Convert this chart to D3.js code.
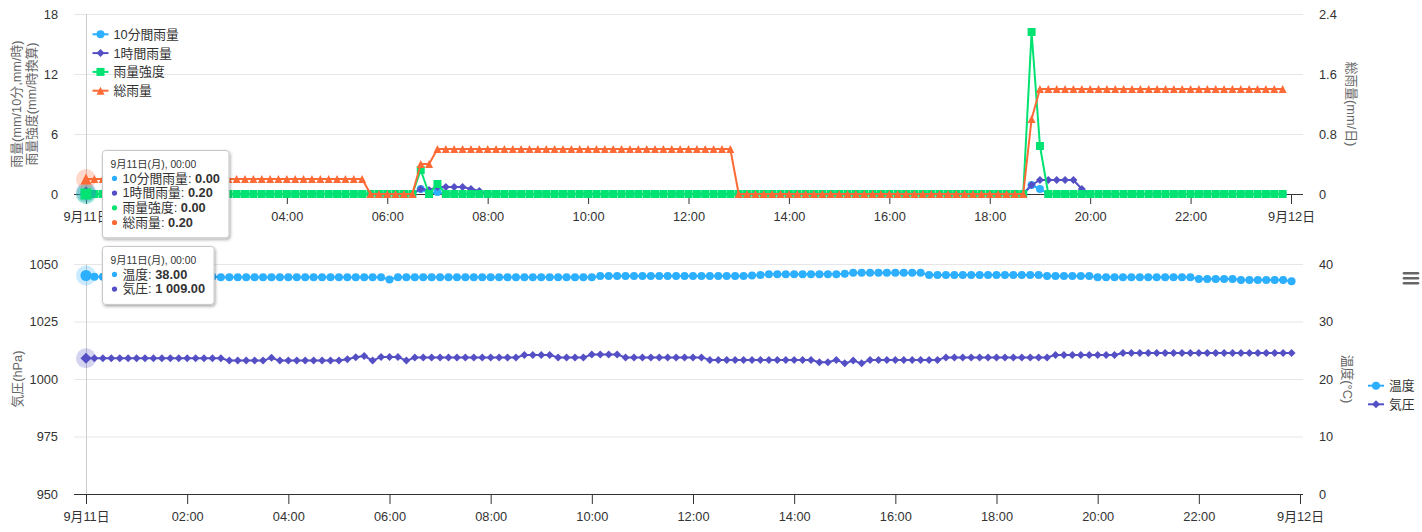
<!DOCTYPE html>
<html><head><meta charset="utf-8">
<script src="https://cdn.jsdelivr.net/npm/d3@7/dist/d3.min.js"></script>
<style>
html,body{margin:0;padding:0;background:#fff;}
svg{display:block;}
text{font-family:"Liberation Sans",Arial,Helvetica,"Noto Sans CJK JP",sans-serif;}
</style></head><body>
<svg id="chart" width="1422" height="532"></svg>
<script>
// ---------------- DATA ----------------
const startTime = new Date(2023, 8, 11, 0, 0);
const stepMinutes = 10;
const xTickHours = [0,2,4,6,8,10,12,14,16,18,20,22,24];
const weekdays = ['日','月','火','水','木','金','土'];

const topSeriesNames = ['10分間雨量','1時間雨量','雨量強度','総雨量'];
const topLeftTitles = ['雨量(mm/10分,mm/時)','雨量強度(mm/時換算)'];
const topRightTitle = '総雨量(mm/日)';
const topLeftTicks = [0,6,12,18];
const topRightTicks = [0,0.8,1.6,2.4];

const bottomSeriesNames = ['温度','気圧'];
const bottomLeftTitle = '気圧(hPa)';
const bottomRightTitle = '温度(°C)';
const bottomLeftTicks = [950,975,1000,1025,1050];
const bottomRightTicks = [0,10,20,30,40];

// 10-minute rainfall (mm)
const rain10 = [
0,0,0,0,0,0,0,0,0,0,0,0,
0,0,0,0,0,0,0,0,0,0,0,0,
0,0,0,0,0,0,0,0,0,0,0,0,
0,0,0,0,0.5,0,0.2,0,0,0,0,0,
0,0,0,0,0,0,0,0,0,0,0,0,
0,0,0,0,0,0,0,0,0,0,0,0,
0,0,0,0,0,0,0,0,0,0,0,0,
0,0,0,0,0,0,0,0,0,0,0,0,
0,0,0,0,0,0,0,0,0,0,0,0,
0,0,0,0,0,0.9,0.5,0,0,0,0,0,
0,0,0,0,0,0,0,0,0,0,0,0,
0,0,0,0,0,0,0,0,0,0,0,0];
// 1-hour rainfall (mm)
const rain1h = [
0.2,0,0,0,0,0,0,0,0,0,0,0,
0,0,0,0,0,0,0,0,0,0,0,0,
0,0,0,0,0,0,0,0,0,0,0,0,
0,0,0,0,0.5,0.4,0.7,0.7,0.7,0.7,0.5,0.3,
0,0,0,0,0,0,0,0,0,0,0,0,
0,0,0,0,0,0,0,0,0,0,0,0,
0,0,0,0,0,0,0,0,0,0,0,0,
0,0,0,0,0,0,0,0,0,0,0,0,
0,0,0,0,0,0,0,0,0,0,0,0,
0,0,0,0,0,0.9,1.4,1.4,1.4,1.4,1.4,0.5,
0,0,0,0,0,0,0,0,0,0,0,0,
0,0,0,0,0,0,0,0,0,0,0,0];
// rainfall intensity (mm/h)
const rainIntensity = [
0,0,0,0,0,0,0,0,0,0,0,0,
0,0,0,0,0,0,0,0,0,0,0,0,
0,0,0,0,0,0,0,0,0,0,0,0,
0,0,0,0,2.4,0,1.0,0,0,0,0,0,
0,0,0,0,0,0,0,0,0,0,0,0,
0,0,0,0,0,0,0,0,0,0,0,0,
0,0,0,0,0,0,0,0,0,0,0,0,
0,0,0,0,0,0,0,0,0,0,0,0,
0,0,0,0,0,0,0,0,0,0,0,0,
0,0,0,0,0,16.2,4.8,0,0,0,0,0,
0,0,0,0,0,0,0,0,0,0,0,0,
0,0,0,0,0,0,0,0,0,0,0,0];
// total rainfall (mm/day)
const rainTotal = [
0.2,0.2,0.2,0.2,0.2,0.2,0.2,0.2,0.2,0.2,0.2,0.2,
0.2,0.2,0.2,0.2,0.2,0.2,0.2,0.2,0.2,0.2,0.2,0.2,
0.2,0.2,0.2,0.2,0.2,0.2,0.2,0.2,0.2,0.2,0,0,
0,0,0,0,0.4,0.4,0.6,0.6,0.6,0.6,0.6,0.6,
0.6,0.6,0.6,0.6,0.6,0.6,0.6,0.6,0.6,0.6,0.6,0.6,
0.6,0.6,0.6,0.6,0.6,0.6,0.6,0.6,0.6,0.6,0.6,0.6,
0.6,0.6,0.6,0.6,0.6,0.6,0,0,0,0,0,0,
0,0,0,0,0,0,0,0,0,0,0,0,
0,0,0,0,0,0,0,0,0,0,0,0,
0,0,0,0,0,1.0,1.4,1.4,1.4,1.4,1.4,1.4,
1.4,1.4,1.4,1.4,1.4,1.4,1.4,1.4,1.4,1.4,1.4,1.4,
1.4,1.4,1.4,1.4,1.4,1.4,1.4,1.4,1.4,1.4,1.4,1.4];
// temperature (°C)
const temperature = [
38.0,37.8,37.8,37.8,37.8,37.8,37.8,37.8,37.8,37.8,37.8,37.8,
37.8,37.8,37.8,37.8,37.7,37.7,37.7,37.7,37.7,37.7,37.7,37.7,
37.7,37.7,37.7,37.7,37.7,37.7,37.7,37.7,37.7,37.7,37.7,37.7,
37.3,37.7,37.7,37.7,37.7,37.7,37.7,37.7,37.7,37.7,37.7,37.7,
37.7,37.7,37.7,37.7,37.7,37.7,37.7,37.7,37.7,37.7,37.7,37.7,
37.7,37.9,37.9,37.9,37.9,37.9,37.9,37.9,37.9,37.9,37.9,37.9,
37.9,37.9,37.9,37.9,37.9,37.9,37.9,38.0,38.1,38.2,38.2,38.2,
38.2,38.2,38.2,38.2,38.2,38.2,38.3,38.5,38.5,38.5,38.5,38.5,
38.5,38.5,38.5,38.5,38.1,38.1,38.1,38.1,38.1,38.1,38.1,38.1,
38.1,38.1,38.1,38.1,38.1,38.1,37.9,37.9,37.9,37.9,37.9,37.9,
37.7,37.7,37.7,37.7,37.7,37.7,37.7,37.7,37.7,37.7,37.7,37.7,
37.4,37.4,37.4,37.4,37.4,37.2,37.2,37.2,37.2,37.2,37.2,37.0];
// pressure (hPa)
const pressure = [
1009,1009,1009,1009,1009,1009,1009,1009,1009,1009,1009,1009,
1009,1009,1009,1009,1009,1008,1008,1008,1008,1008,1009.2,1008,
1008,1008,1008,1008,1008,1008,1008,1008.6,1009.5,1010,1008,1009.6,
1009.6,1009.6,1008,1009.3,1009.3,1009.3,1009.3,1009.3,1009.3,1009.3,1009.3,1009.3,
1009.3,1009.3,1009.3,1009.3,1010.4,1010.4,1010.4,1010.4,1009.4,1009.4,1009.4,1009.4,
1010.6,1010.6,1010.6,1010.6,1009.4,1009.4,1009.4,1009.4,1009.4,1009.4,1009.4,1009.4,
1009.4,1009.4,1008.3,1008.3,1008.3,1008.3,1008.3,1008.3,1008.3,1008.3,1008.3,1008.3,
1008.3,1008.3,1008.3,1007.3,1007.3,1008.3,1006.8,1008.0,1006.8,1008.3,1008.3,1008.3,
1008.3,1008.3,1008.3,1008.3,1008.3,1008.3,1009.4,1009.4,1009.4,1009.4,1009.4,1009.4,
1009.4,1009.4,1009.4,1009.4,1009.4,1009.4,1009.4,1010.4,1010.4,1010.4,1010.4,1010.4,
1010.4,1010.4,1010.4,1011.3,1011.3,1011.3,1011.3,1011.3,1011.3,1011.3,1011.3,1011.3,
1011.3,1011.3,1011.3,1011.3,1011.3,1011.3,1011.3,1011.3,1011.3,1011.3,1011.3,1011.3];

const colors = {blue:'#2caffe', purple:'#544fc5', green:'#00e272', orange:'#fe6a35'};

// ---------------- SETUP ----------------
const svg = d3.select('#chart');
const times = rain10.map((_, i) => new Date(startTime.getTime() + i * stepMinutes * 60000));
const tickDates = xTickHours.map(h => new Date(startTime.getTime() + h * 3600000));
const dayEnd = tickDates[tickDates.length - 1];
const xFmt = d => d.getHours() === 0 ? `${d.getMonth()+1}月${d.getDate()}日` : d3.timeFormat('%H:%M')(d);
const numFmt = d3.formatLocale({decimal:'.', thousands:' ', grouping:[3], currency:['','']}).format(',.2f');

const plotL = 74, plotR = 1303;
const FONT = '12.8px';

const defs = svg.append('defs');
const f = defs.append('filter').attr('id','shadow').attr('x','-20%').attr('y','-20%').attr('width','150%').attr('height','150%');
f.append('feDropShadow').attr('dx',1).attr('dy',1.5).attr('stdDeviation',1.6).attr('flood-color','#000').attr('flood-opacity',0.35);

function symbolPath(type, cx, cy, r) {
  switch (type) {
    case 'circle': return `M${cx-r},${cy}a${r},${r} 0 1,0 ${2*r},0a${r},${r} 0 1,0 ${-2*r},0Z`;
    case 'diamond': return `M${cx},${cy-r}L${cx+r},${cy}L${cx},${cy+r}L${cx-r},${cy}Z`;
    case 'square': return `M${cx-r},${cy-r}h${2*r}v${2*r}h${-2*r}Z`;
    case 'triangle': return `M${cx},${cy-r}L${cx+r},${cy+r}L${cx-r},${cy+r}Z`;
  }
}

function styleAxisText(g) {
  g.attr('font-family', null).attr('font-size', null);
  g.selectAll('text').attr('fill', '#333333').style('font-size', FONT);
  g.select('.domain').remove();
}

function drawPanel(cfg) {
  const root = svg.append('g');
  // grid
  const grid = root.append('g').attr('transform', `translate(${plotL},0)`)
    .call(d3.axisLeft(cfg.yL).tickValues(cfg.leftTicks).tickSize(-(plotR - plotL)).tickFormat(''));
  grid.select('.domain').remove();
  grid.selectAll('line').attr('stroke', '#e6e6e6');

  // y axes
  const yl = root.append('g').attr('transform', `translate(${plotL},0)`)
    .call(d3.axisLeft(cfg.yL).tickValues(cfg.leftTicks).tickSize(0).tickPadding(16).tickFormat(d => String(d)));
  styleAxisText(yl);
  const yr = root.append('g').attr('transform', `translate(${plotR},0)`)
    .call(d3.axisRight(cfg.yR).tickValues(cfg.rightTicks).tickSize(0).tickPadding(16).tickFormat(d => String(d)));
  styleAxisText(yr);

  // x axis
  const y0 = cfg.yL.range()[0];
  root.append('line').attr('x1', plotL).attr('x2', plotR).attr('y1', y0 + 0.5).attr('y2', y0 + 0.5)
    .attr('stroke', '#333333').attr('stroke-width', 1);
  const xa = root.append('g').attr('transform', `translate(0,${y0})`)
    .call(d3.axisBottom(cfg.x).tickValues(tickDates).tickSize(10).tickPadding(8).tickFormat(xFmt));
  styleAxisText(xa);
  xa.selectAll('line').attr('stroke', '#333333');
  // labels entirely hidden behind the tooltip are not rendered
  if (cfg.hideTickIdx) xa.selectAll('.tick').filter((d, i) => cfg.hideTickIdx.includes(i)).select('text').remove();

  // titles
  cfg.leftTitles.forEach(t => {
    root.append('text').attr('transform', `translate(${t.x},${t.y}) rotate(-90)`)
      .attr('text-anchor', 'middle').attr('dy', '0.35em').attr('fill', '#666666')
      .style('font-size', FONT).text(t.text);
  });
  root.append('text').attr('transform', `translate(${cfg.rightTitle.x},${cfg.rightTitle.y}) rotate(90)`)
    .attr('text-anchor', 'middle').attr('dy', '0.35em').attr('fill', '#666666')
    .style('font-size', FONT).text(cfg.rightTitle.text);

  // crosshair at first point
  const yTop = cfg.yL.range()[1];
  root.append('line').attr('x1', cfg.x(times[0]) + 0.5).attr('x2', cfg.x(times[0]) + 0.5)
    .attr('y1', yTop).attr('y2', y0).attr('stroke', '#cccccc').attr('stroke-width', 1);

  // series
  cfg.series.forEach(s => {
    const g = root.append('g');
    const line = d3.line().x((d, i) => cfg.x(times[i])).y(d => s.y(d));
    g.append('path').attr('d', line(s.values)).attr('fill', 'none').attr('stroke', s.color)
      .attr('stroke-width', 2).attr('stroke-linejoin', 'round').attr('stroke-linecap', 'round');
    g.selectAll('path.m').data(s.values).enter().append('path').attr('class', 'm')
      .attr('d', (d, i) => symbolPath(s.symbol, cfg.x(times[i]), s.y(d), 4))
      .attr('fill', s.color);
  });
  // hover halos + enlarged markers at index 0
  cfg.series.forEach(s => {
    const cx = cfg.x(times[0]), cy = s.y(s.values[0]);
    root.append('circle').attr('cx', cx).attr('cy', cy).attr('r', 10).attr('fill', s.color).attr('opacity', 0.25);
  });
  cfg.series.forEach(s => {
    const cx = cfg.x(times[0]), cy = s.y(s.values[0]);
    root.append('path').attr('d', symbolPath(s.symbol, cx, cy, 5.5)).attr('fill', s.color);
  });

  // legend
  cfg.series.forEach((s, k) => {
    const ly = cfg.legend.y + k * cfg.legend.step;
    const lx = cfg.legend.x;
    root.append('line').attr('x1', lx).attr('x2', lx + 16).attr('y1', ly).attr('y2', ly)
      .attr('stroke', s.color).attr('stroke-width', 2);
    root.append('path').attr('d', symbolPath(s.symbol, lx + 8, ly, 4)).attr('fill', s.color);
    root.append('text').attr('x', lx + 21).attr('y', ly).attr('dy', '0.35em')
      .attr('fill', '#333333').style('font-size', FONT).text(s.name);
  });

  // tooltip
  const tt = root.append('g');
  const box = tt.append('rect').attr('x', cfg.tip.x).attr('y', cfg.tip.y).attr('rx', 3).attr('ry', 3)
    .attr('fill', '#ffffff').attr('stroke', '#c8c8c8').attr('stroke-width', 1).attr('filter', 'url(#shadow)');
  const d0 = times[0];
  const header = `${d0.getMonth()+1}月${d0.getDate()}日(${weekdays[d0.getDay()]}), ${d3.timeFormat('%H:%M')(d0)}`;
  const texts = [];
  texts.push(tt.append('text').attr('x', cfg.tip.x + 8).attr('y', cfg.tip.y + 17.5)
    .attr('fill', '#333333').style('font-size', '10.3px').text(header));
  cfg.series.forEach((s, k) => {
    const by = cfg.tip.y + 17.5 + (k + 1) * 14.7;
    tt.append('circle').attr('cx', cfg.tip.x + 12).attr('cy', by - 4.3).attr('r', 2.6).attr('fill', s.color);
    const t = tt.append('text').attr('x', cfg.tip.x + 20).attr('y', by).attr('fill', '#333333').style('font-size', FONT);
    t.append('tspan').text(s.name + ': ');
    t.append('tspan').attr('font-weight', 'bold').text(numFmt(s.values[0]));
    texts.push(t);
  });
  let maxR = 0;
  texts.forEach(t => { const b = t.node().getBBox(); maxR = Math.max(maxR, b.x + b.width); });
  box.attr('width', maxR + 9 - cfg.tip.x).attr('height', 17.5 + cfg.series.length * 14.7 + 11);
}

// ---------------- TOP PANEL ----------------
const xTop = d3.scaleTime().domain([startTime, dayEnd]).range([86, 1291]);
const yL1 = d3.scaleLinear().domain([0, 18]).range([194, 14]);
const yR1 = d3.scaleLinear().domain([0, 2.4]).range([194, 14]);
drawPanel({
  x: xTop, yL: yL1, yR: yR1, leftTicks: topLeftTicks, rightTicks: topRightTicks,
  leftTitles: [{text: topLeftTitles[0], x: 16.7, y: 104}, {text: topLeftTitles[1], x: 31.7, y: 104}],
  rightTitle: {text: topRightTitle, x: 1351.5, y: 104},
  series: [
    {name: topSeriesNames[0], values: rain10, color: colors.blue, symbol: 'circle', y: yL1},
    {name: topSeriesNames[1], values: rain1h, color: colors.purple, symbol: 'diamond', y: yL1},
    {name: topSeriesNames[2], values: rainIntensity, color: colors.green, symbol: 'square', y: yL1},
    {name: topSeriesNames[3], values: rainTotal, color: colors.orange, symbol: 'triangle', y: yR1}
  ],
  legend: {x: 92.5, y: 34.3, step: 18.8},
  tip: {x: 102.5, y: 150.5},
  hideTickIdx: [1]
});

// ---------------- BOTTOM PANEL ----------------
const xBot = d3.scaleTime().domain([startTime, dayEnd]).range([86, 1300]);
const yL2 = d3.scaleLinear().domain([950, 1050]).range([494, 264]);
const yR2 = d3.scaleLinear().domain([0, 40]).range([494, 264]);
drawPanel({
  x: xBot, yL: yL2, yR: yR2, leftTicks: bottomLeftTicks, rightTicks: bottomRightTicks,
  leftTitles: [{text: bottomLeftTitle, x: 17.3, y: 379}],
  rightTitle: {text: bottomRightTitle, x: 1347.5, y: 379},
  series: [
    {name: bottomSeriesNames[0], values: temperature, color: colors.blue, symbol: 'circle', y: yR2},
    {name: bottomSeriesNames[1], values: pressure, color: colors.purple, symbol: 'diamond', y: yL2}
  ],
  legend: {x: 1368, y: 385.7, step: 18.6},
  tip: {x: 102.5, y: 246.5}
});

// context menu icon
[273.3, 278.3, 283.3].forEach(y => {
  svg.append('line').attr('x1', 1404).attr('x2', 1418).attr('y1', y).attr('y2', y)
    .attr('stroke', '#666666').attr('stroke-width', 2.6).attr('stroke-linecap', 'round');
});
</script>
</body></html>
